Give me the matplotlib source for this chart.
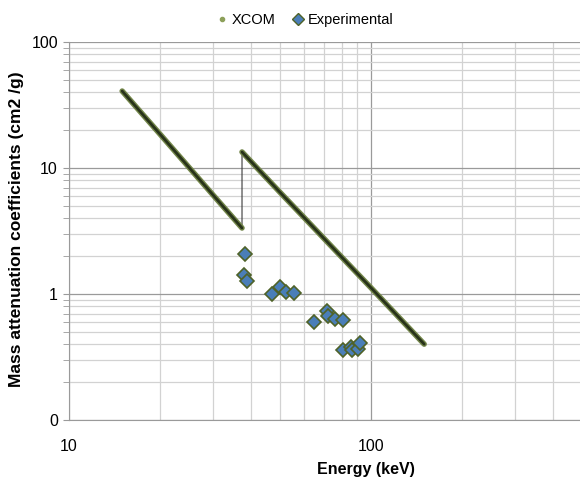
import matplotlib
matplotlib.use("Agg")
import matplotlib.pyplot as plt
from matplotlib.lines import Line2D

plt.rcParams['font.family'] = ['Liberation Sans', 'DejaVu Sans']

# XCOM calculated values (keV, cm2/g), K-edge near 37.4 keV
xcom_energy = [15, 20, 30, 37.4, 37.4, 40, 50, 60, 80, 100, 150]
xcom_mu = [40.8, 18.6, 6.1, 3.34, 13.4, 11.3, 6.4, 4.05, 1.96, 1.12, 0.40]
edge_idx = 4

# experimental points
exp_energy = [38.3, 37.9, 38.9, 47.0, 50.0, 52.3, 55.6, 64.7, 71.5, 72.1,
              76.0, 80.8, 80.8, 85.9, 86.5, 90.6, 92.0]
exp_mu = [2.08, 1.42, 1.27, 1.00, 1.14, 1.04, 1.02, 0.60, 0.73, 0.67,
          0.63, 0.62, 0.36, 0.38, 0.36, 0.366, 0.41]

fig = plt.figure(figsize=(5.8, 4.79), dpi=100)
W, H = 580, 479
# plot area runs out to 1000 keV, past the right edge of the picture
ax = fig.add_axes([69 / W, 1 - 420 / H, 604 / W, 378 / H])
ax.set_xscale('log')
ax.set_yscale('log')
ax.set_xlim(10, 1000)
ax.set_ylim(0.1, 100)

ax.grid(True, which='major', color='#9a9a9a', lw=0.9)
ax.grid(True, which='minor', color='#d2d2d2', lw=0.9)
ax.set_axisbelow(True)

# thin connecting line (shows the edge jump), then thick branches
ax.plot(xcom_energy, xcom_mu, color='#3a3a3a', lw=0.8, zorder=2)
for seg in (slice(0, edge_idx), slice(edge_idx, None)):
    ax.plot(xcom_energy[seg], xcom_mu[seg], color='#73864a', lw=4,
            solid_capstyle='round', zorder=3)
    ax.plot(xcom_energy[seg], xcom_mu[seg], color='#28331a', lw=2,
            solid_capstyle='round', zorder=4)

ax.plot(exp_energy, exp_mu, ls='none', marker='D', ms=7.5,
        mfc='#4a7eb8', mec='#4f6228', mew=1.2, zorder=5)

for s in ('top', 'right'):
    ax.spines[s].set_visible(False)
for s in ('left', 'bottom'):
    ax.spines[s].set_color('#9a9a9a')

ax.set_yticks([0.1, 1, 10, 100])
ax.set_yticklabels(['0', '1', '10', '100'])
ax.set_xticks([10, 100])
ax.set_xticklabels(['10', '100'])
ax.tick_params(axis='y', which='both', direction='out', length=4,
               color='#9a9a9a', labelsize=11.5, pad=4)
ax.tick_params(axis='y', which='minor', labelleft=False)
ax.tick_params(axis='x', which='both', length=0, labelsize=11.5, pad=13.5)
ax.tick_params(axis='x', which='minor', labelbottom=False)

ax.set_xlabel('Energy (keV)', fontsize=11.5, fontweight='bold')
ax.xaxis.set_label_coords((366 - 69) / 604, (420 - 462) / 378)
ax.set_ylabel('Mass attenuation coefficients (cm2 /g)', fontsize=12.5,
              fontweight='bold')
ax.yaxis.set_label_coords((24 - 69) / 604, (420 - 229) / 378)

handles = [
    Line2D([], [], ls='none', marker='o', ms=3, color='#8da05a'),
    Line2D([], [], ls='none', marker='D', ms=6, mfc='#4a7eb8', mec='#4f6228'),
]
fig.legend(handles, ['XCOM', 'Experimental'], loc='center',
           bbox_to_anchor=(304 / W, 1 - 20 / H), ncol=2, frameon=False,
           fontsize=10.5, handletextpad=0.2, columnspacing=1.0,
           handlelength=1.0)

fig.savefig('out.png', dpi=100)
